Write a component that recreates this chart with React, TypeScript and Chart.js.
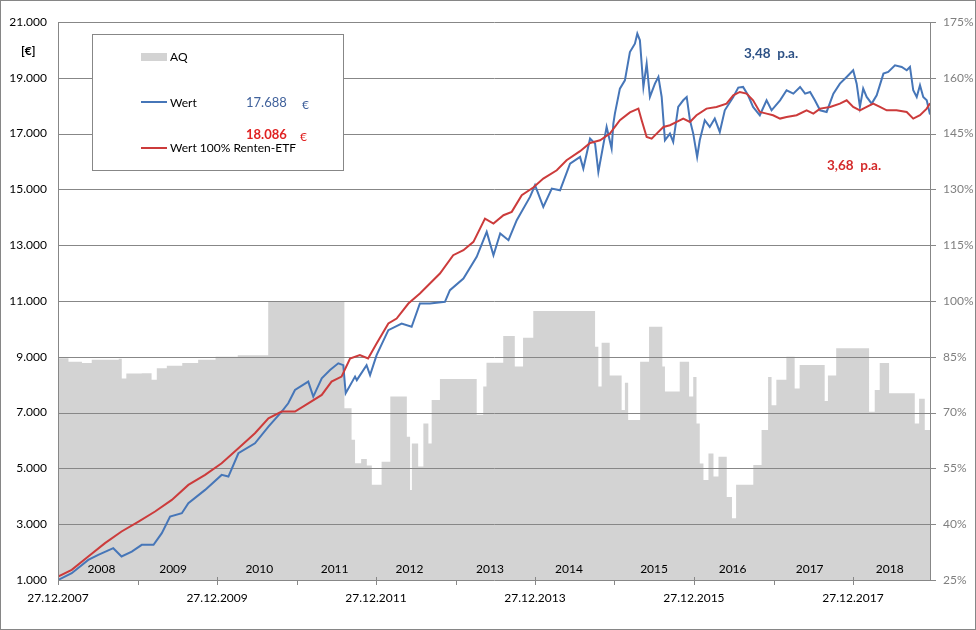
import React, { useEffect, useRef } from 'react';
import { Chart, registerables } from 'chart.js';

Chart.register(...registerables);

// ---------- data ----------
const aqDates = [
  '2007-12-27', '2008-02-13', '2008-04-15', '2008-05-30', '2008-10-01', '2008-10-15', '2008-11-05',
  '2009-01-15', '2009-03-01', '2009-03-25', '2009-05-10', '2009-07-20', '2009-10-01', '2009-12-20',
  '2010-04-01', '2010-08-19', '2011-08-04', '2011-09-06', '2011-09-22', '2011-10-20', '2011-11-15',
  '2011-12-08', '2012-01-22', '2012-03-02', '2012-05-17', '2012-06-01', '2012-06-09', '2012-07-08',
  '2012-08-01', '2012-08-24', '2012-09-08', '2012-10-16', '2013-04-03', '2013-05-03', '2013-05-18',
  '2013-08-03', '2013-09-25', '2013-11-02', '2013-12-19', '2014-09-29', '2014-10-14', '2014-10-29',
  '2014-12-05', '2015-01-29', '2015-02-13', '2015-02-28', '2015-04-24', '2015-06-04', '2015-08-04',
  '2015-08-16', '2015-10-23', '2015-12-05', '2015-12-24', '2016-01-08', '2016-01-23', '2016-02-09',
  '2016-03-03', '2016-03-26', '2016-04-18', '2016-05-26', '2016-06-19', '2016-07-08', '2016-09-25',
  '2016-11-02', '2016-12-02', '2016-12-18', '2017-01-09', '2017-02-24', '2017-04-03', '2017-04-26',
  '2017-08-19', '2017-09-03', '2017-10-11', '2018-03-11', '2018-04-06', '2018-04-29', '2018-06-11',
  '2018-10-07', '2018-10-27', '2018-11-22', '2018-12-16',
];
const aqValues = [
  84.6, 83.7, 83.3, 84.2, 84.5, 79.2, 80.5,
  80.6, 78.8, 81.9, 82.6, 83.3, 84.2, 85.0,
  85.4, 100, 71.2, 62.7, 56.4, 57.5, 55.8,
  50.6, 56.8, 74.3, 63.5, 49.2, 61.7, 55.5,
  67.1, 61.7, 73.4, 79.0, 69.4, 77.0, 83.4,
  90.6, 82.4, 90.1, 97.3, 87.7, 77.0, 88.8,
  80.0, 70.7, 78.0, 68.0, 83.7, 93.1, 82.4,
  75.7, 83.7, 74.3, 79.6, 67.1, 56.3, 51.9,
  59.0, 52.8, 58.1, 47.3, 41.6, 50.6, 55.9,
  65.3, 79.6, 72.0, 78.8, 85.0, 76.5, 82.8,
  73.1, 80.0, 87.3, 70.2, 76.1, 83.3, 75.2,
  67.1, 73.7, 65.3, 65.3,
];

const wertDates = [
  '2007-12-27', '2008-02-28', '2008-05-14', '2008-06-29', '2008-09-06', '2008-10-14', '2008-11-30',
  '2009-01-15', '2009-03-10', '2009-04-17', '2009-05-25', '2009-07-18', '2009-08-17', '2009-11-02',
  '2010-01-17', '2010-02-17', '2010-04-04', '2010-06-19', '2010-08-20', '2010-10-20', '2010-11-19',
  '2010-12-20', '2011-02-19', '2011-03-14', '2011-04-22', '2011-05-30', '2011-07-07', '2011-07-30',
  '2011-08-10', '2011-09-22', '2011-09-30', '2011-11-14', '2011-11-30', '2011-12-30', '2012-02-22',
  '2012-04-23', '2012-06-08', '2012-07-16', '2012-08-31', '2012-11-08', '2012-12-01', '2013-02-01',
  '2013-04-03', '2013-05-19', '2013-06-19', '2013-07-20', '2013-08-27', '2013-10-04', '2013-12-04',
  '2013-12-27', '2014-02-03', '2014-03-14', '2014-04-21', '2014-06-06', '2014-07-22', '2014-08-06',
  '2014-09-06', '2014-09-29', '2014-10-14', '2014-11-21', '2014-12-14', '2014-12-22', '2014-12-29',
  '2015-01-21', '2015-02-13', '2015-03-08', '2015-03-31', '2015-04-11', '2015-04-23', '2015-05-09',
  '2015-05-24', '2015-06-08', '2015-07-01', '2015-07-17', '2015-08-01', '2015-08-16', '2015-09-08',
  '2015-09-23', '2015-10-16', '2015-11-08', '2015-11-24', '2015-12-09', '2015-12-24', '2016-01-11',
  '2016-01-23', '2016-02-15', '2016-03-09', '2016-04-01', '2016-04-24', '2016-05-17', '2016-06-25',
  '2016-07-18', '2016-08-09', '2016-09-01', '2016-09-24', '2016-10-25', '2016-11-25', '2016-12-18',
  '2017-01-26', '2017-02-25', '2017-03-28', '2017-04-28', '2017-05-21', '2017-06-13', '2017-07-05',
  '2017-07-29', '2017-08-28', '2017-09-28', '2017-10-28', '2017-11-28', '2017-12-28', '2018-01-13',
  '2018-01-28', '2018-02-12', '2018-02-28', '2018-03-23', '2018-04-15', '2018-05-16', '2018-06-07',
  '2018-07-08', '2018-08-08', '2018-08-31', '2018-09-15', '2018-09-30', '2018-10-16', '2018-10-31',
  '2018-11-15', '2018-12-01', '2018-12-16',
];
const wertValues = [
  1000, 1245, 1722, 1900, 2140, 1842, 2020,
  2260, 2260, 2680, 3275, 3395, 3753, 4230,
  4767, 4708, 5543, 5900, 6498, 7036, 7334,
  7812, 8110, 7573, 8230, 8528, 8767, 8700,
  7693, 8290, 8164, 8701, 8343, 9060, 9955,
  10194, 10075, 10910, 10910, 10970, 11388, 11806,
  12582, 13478, 12642, 13418, 13179, 13896, 14731,
  15149, 14373, 15030, 14970, 15925, 16164, 15746,
  16821, 16642, 15627, 17239, 16463, 17358, 17716,
  18612, 18910, 19925, 20224, 20582, 20343, 18672,
  19507, 18313, 18791, 19030, 18313, 16761, 17000,
  16702, 17955, 18194, 18313, 17478, 17000, 16164,
  16761, 17478, 17239, 17538, 17060, 17836, 18313,
  18648, 18672, 18373, 17955, 17657, 18194, 17836,
  18194, 18552, 18433, 18672, 18433, 18493, 18194,
  17836, 17776, 18433, 18791, 19030, 19269, 18791,
  17955, 18612, 18313, 18075, 18373, 19150, 19209,
  19448, 19388, 19269, 19388, 18552, 18313, 18731,
  18313, 18194, 17688,
];

const rentenDates = [
  '2007-12-27', '2008-02-28', '2008-05-14', '2008-07-30', '2008-10-14', '2008-12-31', '2009-03-17',
  '2009-06-02', '2009-08-17', '2009-11-02', '2010-01-17', '2010-04-04', '2010-06-19', '2010-08-20',
  '2010-10-20', '2010-12-20', '2011-02-19', '2011-04-22', '2011-06-06', '2011-07-22', '2011-08-30',
  '2011-10-14', '2011-11-21', '2011-12-30', '2012-02-22', '2012-03-31', '2012-05-24', '2012-07-16',
  '2012-08-31', '2012-10-16', '2012-12-16', '2013-02-01', '2013-03-19', '2013-05-11', '2013-06-19',
  '2013-08-04', '2013-09-11', '2013-10-27', '2013-12-19', '2014-02-03', '2014-04-06', '2014-05-21',
  '2014-07-22', '2014-09-06', '2014-10-22', '2014-12-06', '2015-01-21', '2015-03-08', '2015-04-16',
  '2015-05-01', '2015-05-24', '2015-06-16', '2015-07-09', '2015-08-09', '2015-09-08', '2015-10-09',
  '2015-11-08', '2015-12-09', '2016-01-08', '2016-02-23', '2016-04-09', '2016-05-25', '2016-06-25',
  '2016-07-25', '2016-08-25', '2016-09-24', '2016-10-25', '2016-11-25', '2016-12-25', '2017-01-26',
  '2017-02-25', '2017-04-12', '2017-05-28', '2017-06-28', '2017-07-29', '2017-09-13', '2017-10-28',
  '2017-11-28', '2017-12-28', '2018-01-28', '2018-02-28', '2018-03-30', '2018-04-30', '2018-05-31',
  '2018-07-15', '2018-08-31', '2018-09-30', '2018-10-31', '2018-12-01', '2018-12-16',
];
const rentenValues = [
  1120, 1364, 1842, 2320, 2738, 3096, 3454,
  3872, 4409, 4767, 5185, 5722, 6260, 6797,
  7036, 7036, 7334, 7633, 8110, 8290, 8940,
  9060, 8940, 9478, 10194, 10373, 10910, 11269,
  11627, 11985, 12642, 12821, 13120, 13955, 13776,
  14075, 14194, 14791, 15066, 15388, 15687, 16045,
  16370, 16666, 16761, 17000, 17478, 17760, 17896,
  17478, 16881, 16821, 17000, 17239, 17299, 17418,
  17538, 17418, 17657, 17896, 17955, 18075, 18373,
  18493, 18433, 18194, 17776, 17716, 17657, 17538,
  17597, 17657, 17836, 17716, 17896, 17955, 18075,
  18194, 17955, 17836, 17955, 18075, 17955, 17836,
  17836, 17776, 17538, 17657, 17896, 18086,
];

const yearLabels = ['2008', '2009', '2010', '2011', '2012', '2013', '2014', '2015', '2016', '2017', '2018'];
const yearLabelDates = [
  '2008-07-14', '2009-06-08', '2010-07-09', '2011-06-20', '2012-05-29', '2013-06-03',
  '2014-06-01', '2015-06-27', '2016-06-22', '2017-06-11', '2018-06-14',
];
const xTickYears = [2007, 2008, 2009, 2010, 2011, 2012, 2013, 2014, 2015, 2016, 2017];
const xStart = '2007-12-27';
const xEnd = '2018-12-16';

const legendLabels = ['AQ', 'Wert', 'Wert 100% Renten-ETF'];
const endValueWert = '17.688';
const endValueRenten = '18.086';
const paWert = '3,48  p.a.';
const paRenten = '3,68  p.a.';

// ---------- styles ----------
const FONT = 'Lato, "Open Sans", sans-serif';
const GRID = '#878787';
const AQ_COLOR = '#d3d3d3';
const BLUE = '#4676b8';
const RED = '#cc3b3b';

const toTs = (d: string) => Date.parse(d + 'T00:00:00Z');
const fmtThousands = (v: number) => String(Math.round(v)).replace(/\B(?=(\d{3})+(?!\d))/g, '.');
const pad2 = (n: number) => (n < 10 ? '0' + n : String(n));

const overlayPlugin = {
  id: 'overlay',
  afterDatasetDraw(chart: any, args: any) {
    if (args.index !== 0) return;
    const { ctx, chartArea, scales } = chart;
    ctx.save();
    ctx.strokeStyle = GRID;
    ctx.lineWidth = 1;
    ctx.beginPath();
    scales.y.ticks.forEach((t: any) => {
      const y = Math.round(scales.y.getPixelForValue(t.value)) + 0.5;
      ctx.moveTo(chartArea.left, y);
      ctx.lineTo(chartArea.right + 1, y);
    });
    ctx.stroke();
    ctx.restore();
  },
  afterDatasetsDraw(chart: any) {
    const { ctx, chartArea, scales } = chart;
    const { left, right, top, bottom } = chartArea;
    ctx.save();
    // axis lines
    ctx.strokeStyle = GRID;
    ctx.lineWidth = 1;
    ctx.beginPath();
    ctx.moveTo(left + 0.5, top);
    ctx.lineTo(left + 0.5, bottom + 1);
    ctx.moveTo(right + 0.5, top);
    ctx.lineTo(right + 0.5, bottom + 1);
    // right ticks
    scales.y1.ticks.forEach((t: any) => {
      const y = Math.round(scales.y1.getPixelForValue(t.value)) + 0.5;
      ctx.moveTo(right, y);
      ctx.lineTo(right + 6, y);
    });
    // x ticks
    scales.x.ticks.forEach((t: any) => {
      const x = Math.round(scales.x.getPixelForValue(t.value)) + 0.5;
      const yr = new Date(t.value).getUTCFullYear();
      const major = (yr - 2007) % 2 === 0;
      ctx.moveTo(x, Math.round(bottom) + (major ? -3 : 0));
      ctx.lineTo(x, Math.round(bottom) + 5);
    });
    ctx.stroke();

    // year labels inside plot
    ctx.fillStyle = '#000';
    ctx.font = `12px ${FONT}`;
    ctx.textAlign = 'center';
    ctx.textBaseline = 'middle';
    yearLabels.forEach((lab, i) => {
      const x = scales.x.getPixelForValue(toTs(yearLabelDates[i]));
      ctx.fillText(lab, x, bottom - 11);
    });

    // unit label
    ctx.textAlign = 'left';
    ctx.font = `bold 12px ${FONT}`;
    ctx.fillText('[€]', 20, 50);

    // legend box
    const bx = left + 34;
    const by = top + 12;
    ctx.fillStyle = '#fff';
    ctx.fillRect(bx, by, 251, 136);
    ctx.strokeStyle = GRID;
    ctx.strokeRect(bx + 0.5, by + 0.5, 251, 136);

    ctx.fillStyle = AQ_COLOR;
    ctx.fillRect(bx + 49, by + 19, 26, 8);
    ctx.lineWidth = 2;
    ctx.strokeStyle = BLUE;
    ctx.beginPath();
    ctx.moveTo(bx + 49, by + 68);
    ctx.lineTo(bx + 75, by + 68);
    ctx.stroke();
    ctx.strokeStyle = RED;
    ctx.beginPath();
    ctx.moveTo(bx + 49, by + 114);
    ctx.lineTo(bx + 75, by + 114);
    ctx.stroke();

    ctx.fillStyle = '#000';
    ctx.font = `12px ${FONT}`;
    ctx.fillText(legendLabels[0], bx + 78, by + 23);
    ctx.fillText(legendLabels[1], bx + 78, by + 69);
    ctx.fillText(legendLabels[2], bx + 78, by + 114);

    ctx.fillStyle = '#41629c';
    ctx.font = `13px ${FONT}`;
    ctx.fillText(endValueWert, bx + 154, by + 69);
    ctx.font = `12px ${FONT}`;
    ctx.fillText('€', bx + 210, by + 71);

    ctx.fillStyle = '#e02222';
    ctx.font = `bold 13px ${FONT}`;
    ctx.fillText(endValueRenten, bx + 154, by + 101);
    ctx.font = `12px ${FONT}`;
    ctx.fillText('€', bx + 208, by + 103);

    // p.a. annotations
    ctx.font = `bold 13.5px ${FONT}`;
    ctx.fillStyle = '#2e5286';
    ctx.fillText(paWert, 743, 53);
    ctx.fillStyle = '#d42a2a';
    ctx.fillText(paRenten, 826, 165);
    ctx.restore();
  },
};

export default function App() {
  const canvasRef = useRef<HTMLCanvasElement | null>(null);

  useEffect(() => {
    const canvas = canvasRef.current;
    if (!canvas) return;
    Chart.defaults.font.family = FONT;
    const chart = new Chart(canvas, {
      type: 'line',
      data: {
        datasets: [
          {
            label: legendLabels[0],
            data: aqDates.map((d, i) => ({ x: toTs(d), y: aqValues[i] })),
            yAxisID: 'y1',
            borderWidth: 0,
            borderColor: AQ_COLOR,
            backgroundColor: AQ_COLOR,
            fill: 'start',
            stepped: 'before',
            pointRadius: 0,
            order: 3,
          },
          {
            label: legendLabels[1],
            data: wertDates.map((d, i) => ({ x: toTs(d), y: wertValues[i] })),
            yAxisID: 'y',
            borderColor: BLUE,
            borderWidth: 2,
            pointRadius: 0,
            fill: false,
            tension: 0,
            order: 2,
          },
          {
            label: legendLabels[2],
            data: rentenDates.map((d, i) => ({ x: toTs(d), y: rentenValues[i] })),
            yAxisID: 'y',
            borderColor: RED,
            borderWidth: 2,
            pointRadius: 0,
            fill: false,
            tension: 0,
            order: 1,
          },
        ],
      },
      options: {
        animation: false,
        responsive: false,
        layout: { padding: { top: 21, left: 0, right: 0, bottom: 0 } },
        plugins: {
          legend: { display: false },
          tooltip: { enabled: false },
        },
        scales: {
          x: {
            type: 'linear',
            min: toTs(xStart),
            max: toTs(xEnd),
            grid: { display: false, drawTicks: false },
            border: { display: false },
            afterBuildTicks: (scale: any) => {
              scale.ticks = xTickYears.map((y) => ({ value: Date.UTC(y, 11, 27) }));
            },
            afterFit: (scale: any) => {
              scale.height = 49;
            },
            ticks: {
              autoSkip: false,
              maxRotation: 0,
              minRotation: 0,
              padding: 11,
              color: '#000',
              font: { size: 12, family: FONT },
              callback: (v: any) => {
                const d = new Date(Number(v));
                const yr = d.getUTCFullYear();
                if ((yr - 2007) % 2 !== 0) return '';
                return `${pad2(d.getUTCDate())}.${pad2(d.getUTCMonth() + 1)}.${yr}`;
              },
            },
          },
          y: {
            type: 'linear',
            position: 'left',
            min: 1000,
            max: 21000,
            grid: { display: false, drawTicks: false },
            border: { display: false },
            afterFit: (scale: any) => {
              scale.width = 57;
            },
            ticks: {
              stepSize: 2000,
              padding: 11,
              color: '#000',
              font: { size: 12, family: FONT },
              callback: (v: any) => fmtThousands(Number(v)),
            },
          },
          y1: {
            type: 'linear',
            position: 'right',
            min: 25,
            max: 175,
            grid: { display: false, drawTicks: false },
            border: { display: false },
            afterFit: (scale: any) => {
              scale.width = 45;
            },
            ticks: {
              stepSize: 15,
              padding: 13,
              color: '#7f7f7f',
              font: { size: 12, family: FONT },
              callback: (v: any) => `${v}%`,
            },
          },
        },
      },
      plugins: [overlayPlugin],
    } as any);
    return () => chart.destroy();
  }, []);

  return (
    <div
      style={{
        position: 'absolute',
        left: 0,
        top: 0,
        width: 976,
        height: 630,
        boxSizing: 'border-box',
        border: '1px solid #868686',
        background: '#fff',
      }}
    >
      <canvas ref={canvasRef} width={974} height={628} style={{ display: 'block', width: 974, height: 628 }} />
    </div>
  );
}
